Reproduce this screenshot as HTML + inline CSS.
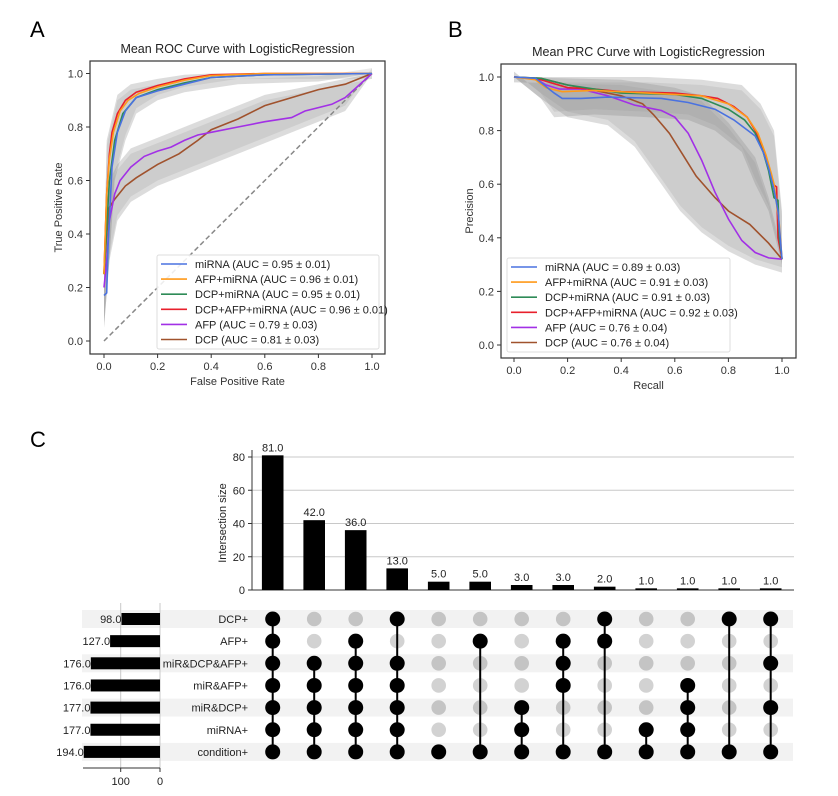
<!DOCTYPE html><html><head><meta charset="utf-8"><style>body{margin:0;background:#fff}svg{display:block;font-family:"Liberation Sans",sans-serif}</style></head><body>
<svg id="s" width="838" height="796" viewBox="0 0 838 796" xmlns="http://www.w3.org/2000/svg">
<rect width="838" height="796" fill="#fff"/>
<text x="30" y="37" font-size="22">A</text>
<text x="448" y="37" font-size="22">B</text>
<text x="30" y="447" font-size="22">C</text>
<g id="g"></g>
</svg>
<script>
const NS="http://www.w3.org/2000/svg",G=document.getElementById('g');
function el(t,a,txt){const e=document.createElementNS(NS,t);for(const k in a)e.setAttribute(k,a[k]);if(txt!==undefined)e.textContent=txt;G.appendChild(e);return e;}
function poly(pts,fx,fy){return pts.map((p,i)=>(i?'L':'M')+fx(p[0]).toFixed(1)+' '+fy(p[1]).toFixed(1)).join(' ');}
function band(up,lo,fx,fy){return poly(up,fx,fy)+' '+poly(lo.slice().reverse(),fx,fy).replace('M','L')+' Z';}
function shrink(b,k){return [b[0].map(p=>[p[0],Math.min(1,p[1]-k)]),b[1].map(p=>[p[0],p[1]+k])];}
const C={blue:'#4a72e0',orange:'#ff9a1a',green:'#2e8b57',red:'#e8202c',purple:'#a230e6',brown:'#a0522d'};
function panel(o){
 const {x0,x1,y0,y1,fx,fy}=o;
 el('text',{x:(x0+x1)/2,y:y0-8,'font-size':12.5,'text-anchor':'middle',fill:'#222'},o.title);
 o.bands.forEach(b=>{el('path',{d:band(b[0],b[1],fx,fy),fill:'#8c8c8c','fill-opacity':0.3});
   const s=shrink(b,0.02);el('path',{d:band(s[0],s[1],fx,fy),fill:'#8c8c8c','fill-opacity':0.18});});
 if(o.diag)el('path',{d:'M'+fx(0)+' '+fy(0)+' L'+fx(1)+' '+fy(1),stroke:'#888','stroke-width':1.5,'stroke-dasharray':'5,3',fill:'none'});
 o.lines.slice().reverse().forEach(l=>el('path',{d:poly(l[1],fx,fy),stroke:C[l[0]],'stroke-width':1.6,fill:'none'}));
 el('rect',{x:x0,y:y0,width:x1-x0,height:y1-y0,fill:'none',stroke:'#333','stroke-width':1.2});
 for(let i=0;i<=5;i++){const v=i/5,X=fx(v),Y=fy(v);
  el('line',{x1:X,y1:y1,x2:X,y2:y1+4,stroke:'#333'});
  el('text',{x:X,y:y1+16,'font-size':11,'text-anchor':'middle',fill:'#333'},v.toFixed(1));
  el('line',{x1:x0,y1:Y,x2:x0-4,y2:Y,stroke:'#333'});
  el('text',{x:x0-7,y:Y+4,'font-size':11,'text-anchor':'end',fill:'#333'},v.toFixed(1));}
 el('text',{x:(x0+x1)/2,y:y1+31,'font-size':11,'text-anchor':'middle',fill:'#333'},o.xl);
 const cy=(y0+y1)/2;el('text',{x:x0-28,y:cy,'font-size':11,'text-anchor':'middle',fill:'#333',transform:`rotate(-90 ${x0-28} ${cy})`},o.yl);
 const L=o.leg;el('rect',{x:L.x,y:L.y,width:L.w,height:94,fill:'#fff','fill-opacity':0.85,stroke:'#ddd',rx:2});
 o.lines.forEach((l,i)=>{const yy=L.y+9+i*15.1;el('line',{x1:L.x+4,y1:yy,x2:L.x+30,y2:yy,stroke:C[l[0]],'stroke-width':1.6});
  el('text',{x:L.x+38,y:yy+4,'font-size':11,fill:'#222'},l[2]);});
}
panel({x0:90,x1:385,y0:61,y1:354,fx:v=>104+268*v,fy:v=>341-267.5*v,title:'Mean ROC Curve with LogisticRegression',xl:'False Positive Rate',yl:'True Positive Rate',diag:1,
 leg:{x:157,y:255,w:222},
 bands:[[[[0,0.3],[0.01,0.75],[0.05,0.92],[0.1,0.96],[0.2,0.98],[0.3,0.995],[0.4,1],[1,1]],[[0,0.05],[0.02,0.3],[0.04,0.6],[0.08,0.75],[0.12,0.85],[0.2,0.9],[0.3,0.93],[0.5,0.96],[0.8,0.97],[1,1]]],
  [[[0,0.3],[0.02,0.6],[0.05,0.66],[0.1,0.72],[0.2,0.76],[0.4,0.84],[0.6,0.92],[0.8,0.96],[1,1]],[[0,0.05],[0.02,0.3],[0.05,0.45],[0.1,0.52],[0.2,0.58],[0.3,0.62],[0.4,0.66],[0.5,0.7],[0.6,0.74],[0.8,0.82],[0.9,0.86],[1,1]]]],
 lines:[['blue',[[0,0.17],[0.01,0.18],[0.015,0.35],[0.03,0.65],[0.05,0.78],[0.08,0.86],[0.12,0.91],[0.2,0.935],[0.3,0.96],[0.4,0.985],[0.6,0.995],[1,1]],'miRNA (AUC = 0.95 ± 0.01)'],
 ['orange',[[0,0.25],[0.005,0.4],[0.01,0.55],[0.02,0.68],[0.035,0.78],[0.06,0.86],[0.09,0.9],[0.13,0.925],[0.2,0.95],[0.3,0.975],[0.4,0.992],[0.6,1],[1,1]],'AFP+miRNA (AUC = 0.96 ± 0.01)'],
 ['green',[[0,0.25],[0.02,0.6],[0.04,0.75],[0.07,0.85],[0.12,0.91],[0.2,0.94],[0.3,0.965],[0.4,0.985],[0.6,0.995],[1,1]],'DCP+miRNA (AUC = 0.95 ± 0.01)'],
 ['red',[[0,0.25],[0.005,0.4],[0.01,0.55],[0.02,0.7],[0.03,0.78],[0.05,0.85],[0.08,0.9],[0.12,0.93],[0.2,0.955],[0.3,0.98],[0.4,0.995],[0.6,1],[1,1]],'DCP+AFP+miRNA (AUC = 0.96 ± 0.01)'],
 ['purple',[[0,0.2],[0.01,0.3],[0.02,0.45],[0.04,0.55],[0.06,0.6],[0.1,0.65],[0.15,0.69],[0.2,0.71],[0.25,0.725],[0.3,0.75],[0.35,0.77],[0.4,0.78],[0.5,0.8],[0.6,0.82],[0.7,0.835],[0.75,0.86],[0.85,0.885],[0.9,0.91],[1,1]],'AFP (AUC = 0.79 ± 0.03)'],
 ['brown',[[0,0.25],[0.01,0.4],[0.02,0.5],[0.04,0.53],[0.08,0.58],[0.12,0.61],[0.2,0.66],[0.28,0.7],[0.35,0.75],[0.4,0.79],[0.5,0.83],[0.6,0.88],[0.7,0.91],[0.8,0.94],[0.9,0.96],[1,1]],'DCP (AUC = 0.81 ± 0.03)']]});
panel({x0:501,x1:796,y0:64,y1:358,fx:v=>514+268*v,fy:v=>345-268*v,title:'Mean PRC Curve with LogisticRegression',xl:'Recall',yl:'Precision',
 leg:{x:507,y:258,w:223},
 bands:[[[[0,1],[0.5,1],[0.7,0.99],[0.85,0.97],[0.92,0.9],[0.97,0.8],[1,0.5],[1,0.32]],[[0,1],[0.1,0.92],[0.15,0.85],[0.3,0.86],[0.5,0.85],[0.65,0.84],[0.75,0.8],[0.85,0.72],[0.9,0.6],[0.95,0.5],[0.98,0.38],[1,0.3]]],
  [[[0,1],[0.4,0.99],[0.6,0.96],[0.7,0.93],[0.8,0.83],[0.9,0.7],[0.95,0.55],[1,0.35]],[[0,1],[0.1,0.92],[0.2,0.85],[0.35,0.82],[0.45,0.74],[0.55,0.6],[0.62,0.5],[0.7,0.42],[0.8,0.35],[0.9,0.3],[1,0.27]]]],
 lines:[['blue',[[0,1],[0.08,0.995],[0.1,0.98],[0.15,0.94],[0.18,0.92],[0.25,0.92],[0.35,0.925],[0.55,0.92],[0.65,0.905],[0.75,0.88],[0.82,0.84],[0.9,0.78],[0.93,0.72],[0.95,0.66],[0.97,0.58],[0.985,0.5],[1,0.32]],'miRNA (AUC = 0.89 ± 0.03)'],
 ['orange',[[0,1],[0.08,0.99],[0.12,0.96],[0.18,0.945],[0.3,0.95],[0.5,0.94],[0.7,0.93],[0.8,0.9],[0.87,0.85],[0.91,0.79],[0.94,0.71],[0.96,0.64],[0.97,0.6],[0.99,0.45],[1,0.32]],'AFP+miRNA (AUC = 0.91 ± 0.03)'],
 ['green',[[0,1],[0.1,0.995],[0.2,0.97],[0.3,0.955],[0.4,0.94],[0.6,0.935],[0.7,0.92],[0.8,0.88],[0.86,0.84],[0.9,0.79],[0.93,0.72],[0.95,0.65],[0.96,0.6],[0.97,0.55],[0.985,0.54],[0.99,0.4],[1,0.32]],'DCP+miRNA (AUC = 0.91 ± 0.03)'],
 ['red',[[0,1],[0.1,0.99],[0.2,0.96],[0.3,0.955],[0.4,0.945],[0.6,0.94],[0.7,0.93],[0.76,0.92],[0.82,0.89],[0.87,0.85],[0.9,0.8],[0.93,0.73],[0.95,0.67],[0.965,0.6],[0.98,0.59],[0.985,0.4],[1,0.32]],'DCP+AFP+miRNA (AUC = 0.92 ± 0.03)'],
 ['purple',[[0,1],[0.08,0.995],[0.12,0.97],[0.17,0.955],[0.25,0.955],[0.35,0.93],[0.45,0.895],[0.5,0.885],[0.55,0.875],[0.6,0.85],[0.65,0.79],[0.7,0.69],[0.75,0.57],[0.8,0.47],[0.85,0.39],[0.9,0.345],[0.95,0.325],[1,0.32]],'AFP (AUC = 0.76 ± 0.04)'],
 ['brown',[[0,1],[0.1,0.995],[0.2,0.97],[0.3,0.95],[0.4,0.93],[0.48,0.9],[0.52,0.86],[0.58,0.79],[0.63,0.71],[0.68,0.63],[0.75,0.55],[0.8,0.5],[0.88,0.45],[0.95,0.38],[1,0.32]],'DCP (AUC = 0.76 ± 0.04)']]});

const vals=[81,42,36,13,5,5,3,3,2,1,1,1,1];
const cx=i=>272.7+41.5*i, by=v=>590-1.6625*v;
[0,20,40,60,80].forEach(v=>{const Y=by(v);
 if(v>0)el('line',{x1:252,y1:Y,x2:794,y2:Y,stroke:'#c8c8c8','stroke-width':1});
 el('line',{x1:248,y1:Y,x2:252,y2:Y,stroke:'#333'});
 el('text',{x:245,y:Y+4,'font-size':11,'text-anchor':'end',fill:'#222'},v);});
el('line',{x1:252,y1:450,x2:252,y2:590,stroke:'#333'});
el('line',{x1:252,y1:590,x2:794,y2:590,stroke:'#333'});
el('text',{x:226,y:523,'font-size':11,'text-anchor':'middle',fill:'#222',transform:'rotate(-90 226 523)'},'Intersection size');
vals.forEach((v,i)=>{el('rect',{x:cx(i)-10.8,y:by(v),width:21.6,height:590-by(v),fill:'#000'});
 el('text',{x:cx(i),y:by(v)-4,'font-size':11,'text-anchor':'middle',fill:'#222'},v.toFixed(1));});
const rows=['DCP+','AFP+','miR&DCP&AFP+','miR&AFP+','miR&DCP+','miRNA+','condition+'],sizes=[98,127,176,176,177,177,194];
const ry=r=>619+22.15*r;
rows.forEach((n,r)=>{if(r%2==0)el('rect',{x:82,y:ry(r)-9,width:711,height:18,fill:'#f2f2f2'});});
el('line',{x1:120.7,y1:603,x2:120.7,y2:768,stroke:'#c8c8c8'});
el('line',{x1:160,y1:603,x2:160,y2:768,stroke:'#c8c8c8'});
rows.forEach((n,r)=>{const Y=ry(r),w=sizes[r]*0.393;
 el('rect',{x:160-w,y:Y-6,width:w,height:12,fill:'#000'});
 el('text',{x:160-w,y:Y+4,'font-size':11,'text-anchor':'end',fill:'#222'},sizes[r].toFixed(1));
 el('text',{x:248,y:Y+4,'font-size':11,'text-anchor':'end',fill:'#222'},n);});
el('line',{x1:83,y1:768,x2:160,y2:768,stroke:'#333'});
[[100,120.7],[0,160]].forEach(t=>{el('line',{x1:t[1],y1:768,x2:t[1],y2:772,stroke:'#333'});el('text',{x:t[1],y:785,'font-size':11,'text-anchor':'middle',fill:'#222'},t[0]);});
const act=[[0,1,2,3,4,5,6],[2,3,4,5,6],[1,2,3,4,5,6],[0,2,3,4,5,6],[6],[1,6],[4,5,6],[1,2,3,6],[0,1,6],[5,6],[3,4,5,6],[0,6],[0,2,4,6]];
act.forEach((a,i)=>{const X=cx(i);
 rows.forEach((n,r)=>{if(!a.includes(r))el('circle',{cx:X,cy:ry(r),r:7.3,fill:r%2==0?'#c4c4c4':'#d2d2d2'});});
 if(a.length>1)el('line',{x1:X,y1:ry(Math.min(...a)),x2:X,y2:ry(Math.max(...a)),stroke:'#000','stroke-width':2});
 a.forEach(r=>el('circle',{cx:X,cy:ry(r),r:7.5,fill:'#000'}));});
</script>
</body></html>
